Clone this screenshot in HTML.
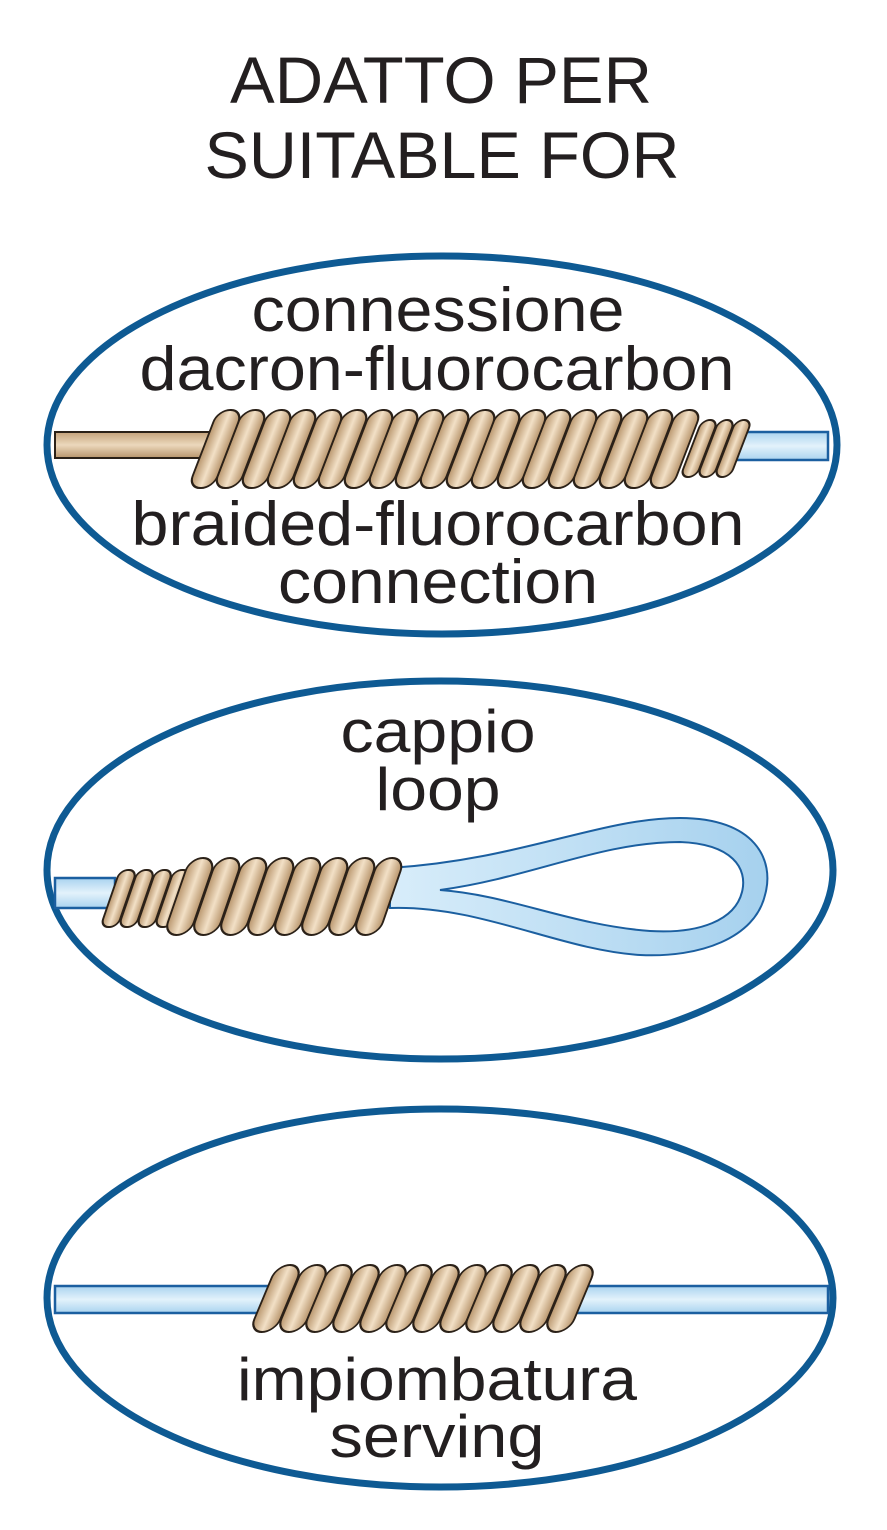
<!DOCTYPE html>
<html><head><meta charset="utf-8"><style>
html,body{margin:0;padding:0;background:#fff}
svg{display:block}
text{font-family:"Liberation Sans",sans-serif;fill:#231f20;text-anchor:middle}
</style></head><body>
<svg width="887" height="1530" viewBox="0 0 887 1530" xmlns="http://www.w3.org/2000/svg">
<defs>
<linearGradient id="tan" x1="0" y1="0" x2="1" y2="0">
<stop offset="0" stop-color="#b8956c"/><stop offset="0.5" stop-color="#f2e0c6"/><stop offset="1" stop-color="#b8956c"/></linearGradient>
<linearGradient id="tanh" x1="0" y1="0" x2="0" y2="1">
<stop offset="0" stop-color="#c4a27a"/><stop offset="0.5" stop-color="#ecd8bc"/><stop offset="1" stop-color="#b8956c"/></linearGradient>
<linearGradient id="blue" x1="0" y1="0" x2="0" y2="1">
<stop offset="0" stop-color="#a9d3ef"/><stop offset="0.5" stop-color="#e3f2fb"/><stop offset="1" stop-color="#a9d3ef"/></linearGradient>
<linearGradient id="blue2" x1="0" y1="0" x2="1" y2="0">
<stop offset="0" stop-color="#d8edfa"/><stop offset="1" stop-color="#a6d1ee"/></linearGradient>
<g id="t1"><rect transform="skewX(-21)" x="0" y="0" width="25" height="78" rx="12" fill="url(#tan)" stroke="#2b2118" stroke-width="2"/></g>
<g id="s1"><rect transform="skewX(-21)" x="0" y="0" width="16" height="57" rx="8" fill="url(#tan)" stroke="#2b2118" stroke-width="2"/></g>
<g id="t2"><rect transform="skewX(-19)" x="0" y="0" width="26" height="77" rx="13" fill="url(#tan)" stroke="#2b2118" stroke-width="2"/></g>
<g id="s2"><rect transform="skewX(-19)" x="0" y="0" width="17" height="57" rx="8" fill="url(#tan)" stroke="#2b2118" stroke-width="2"/></g>
<g id="t3"><rect transform="skewX(-22.7)" x="0" y="0" width="26" height="67" rx="13" fill="url(#tan)" stroke="#2b2118" stroke-width="2"/></g>
</defs>

<text x="441" y="103" font-size="66" textLength="422" lengthAdjust="spacingAndGlyphs">ADATTO PER</text>
<text x="442" y="178" font-size="66" textLength="475" lengthAdjust="spacingAndGlyphs">SUITABLE FOR</text>

<!-- Ellipse 1 -->
<ellipse cx="442" cy="445" rx="395" ry="189" fill="#fff" stroke="#0e5a93" stroke-width="7"/>
<text x="438" y="331" font-size="62" textLength="373" lengthAdjust="spacingAndGlyphs">connessione</text>
<text x="437" y="390" font-size="62" textLength="595" lengthAdjust="spacingAndGlyphs">dacron-fluorocarbon</text>
<rect x="55" y="432" width="170" height="26" fill="url(#tanh)" stroke="#2b2118" stroke-width="2"/>
<rect x="730" y="432" width="98" height="28" fill="url(#blue)" stroke="#1b5fa0" stroke-width="2.5"/>
<use href="#s1" x="736" y="420"/><use href="#s1" x="719" y="420"/><use href="#s1" x="702" y="420"/>
<use href="#t1" x="677" y="410"/><use href="#t1" x="651" y="410"/><use href="#t1" x="626" y="410"/><use href="#t1" x="600" y="410"/><use href="#t1" x="575" y="410"/><use href="#t1" x="549" y="410"/><use href="#t1" x="524" y="410"/><use href="#t1" x="498" y="410"/><use href="#t1" x="473" y="410"/><use href="#t1" x="447" y="410"/><use href="#t1" x="422" y="410"/><use href="#t1" x="396" y="410"/><use href="#t1" x="371" y="410"/><use href="#t1" x="345" y="410"/><use href="#t1" x="320" y="410"/><use href="#t1" x="294" y="410"/><use href="#t1" x="269" y="410"/><use href="#t1" x="243" y="410"/><use href="#t1" x="218" y="410"/>
<text x="438" y="545" font-size="62" textLength="613" lengthAdjust="spacingAndGlyphs">braided-fluorocarbon</text>
<text x="438" y="603" font-size="62" textLength="320" lengthAdjust="spacingAndGlyphs">connection</text>

<!-- Ellipse 2 -->
<ellipse cx="440" cy="870" rx="393" ry="189" fill="#fff" stroke="#0e5a93" stroke-width="7"/>
<text x="438" y="752" font-size="60" textLength="195" lengthAdjust="spacingAndGlyphs">cappio</text>
<text x="438" y="810" font-size="60" textLength="125" lengthAdjust="spacingAndGlyphs">loop</text>
<rect x="55" y="878" width="60" height="30" fill="url(#blue)" stroke="#1b5fa0" stroke-width="2.5"/>
<path d="M390,868 C520,860 600,818 680,818 C755,818 775,860 765,895 C755,938 700,958 640,955 C560,950 480,905 390,908 Z" fill="url(#blue2)" stroke="#1b5fa0" stroke-width="2"/>
<path d="M440,890 C530,878 600,842 680,842 C732,844 748,868 742,892 C735,920 700,934 650,931 C570,925 510,895 440,890 Z" fill="#fff" stroke="#1b5fa0" stroke-width="2"/>
<use href="#s2" x="120" y="870"/><use href="#s2" x="138" y="870"/><use href="#s2" x="156" y="870"/><use href="#s2" x="174" y="870"/>
<use href="#t2" x="190" y="858"/><use href="#t2" x="217" y="858"/><use href="#t2" x="244" y="858"/><use href="#t2" x="271" y="858"/><use href="#t2" x="298" y="858"/><use href="#t2" x="325" y="858"/><use href="#t2" x="352" y="858"/><use href="#t2" x="379" y="858"/>

<!-- Ellipse 3 -->
<ellipse cx="440" cy="1298" rx="393" ry="189" fill="#fff" stroke="#0e5a93" stroke-width="7"/>
<rect x="55" y="1286" width="773" height="27" fill="url(#blue)" stroke="#1b5fa0" stroke-width="2.5"/>
<use href="#t3" x="277" y="1265"/><use href="#t3" x="304" y="1265"/><use href="#t3" x="330" y="1265"/><use href="#t3" x="357" y="1265"/><use href="#t3" x="384" y="1265"/><use href="#t3" x="410" y="1265"/><use href="#t3" x="437" y="1265"/><use href="#t3" x="464" y="1265"/><use href="#t3" x="490" y="1265"/><use href="#t3" x="517" y="1265"/><use href="#t3" x="544" y="1265"/><use href="#t3" x="571" y="1265"/>
<text x="437" y="1400" font-size="60" textLength="400" lengthAdjust="spacingAndGlyphs">impiombatura</text>
<text x="437" y="1457" font-size="60" textLength="215" lengthAdjust="spacingAndGlyphs">serving</text>
</svg>
</body></html>
